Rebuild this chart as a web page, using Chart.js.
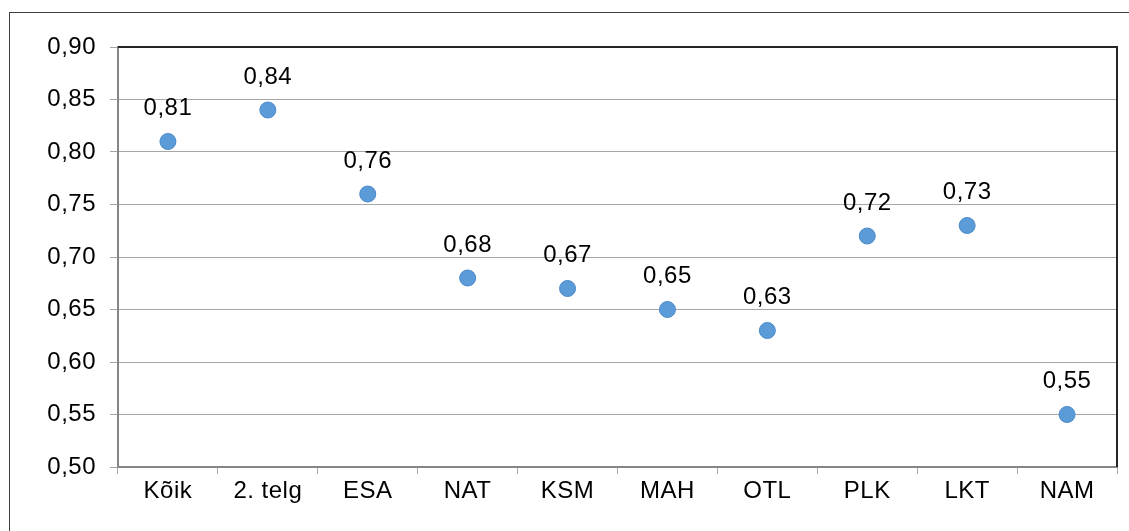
<!DOCTYPE html>
<html>
<head>
<meta charset="utf-8">
<script src="https://cdn.jsdelivr.net/npm/chart.js@4.4.0/dist/chart.umd.min.js"></script>
<style>
  body { margin: 0; background: #fff; }
  canvas { display: block; }
</style>
</head>
<body>
<canvas id="chart" width="1129" height="531"></canvas>
<script>
// data
const categories = ['Kõik', '2. telg', 'ESA', 'NAT', 'KSM', 'MAH', 'OTL', 'PLK', 'LKT', 'NAM'];
const values = [0.81, 0.84, 0.76, 0.68, 0.67, 0.65, 0.63, 0.72, 0.73, 0.55];
const yMin = 0.50, yMax = 0.90, yStep = 0.05;

const fontFamily = '"Liberation Sans", Arial, sans-serif';
const fmt = v => Number(v).toFixed(2).replace('.', ',');

// the original text is a touch wider than plain Arial
const spacingPlugin = {
    id: 'spacing',
    beforeUpdate(chart) { chart.ctx.letterSpacing = '0.5px'; },
    beforeDraw(chart) { chart.ctx.letterSpacing = '0.5px'; }
};

// outer frame + dark top/right plot border
const framePlugin = {
    id: 'frame',
    afterDraw(chart) {
        const { ctx, chartArea } = chart;
        ctx.save();
        ctx.strokeStyle = '#404040';
        ctx.lineWidth = 1;
        ctx.strokeRect(9.5, 12.5, 1200, 600);
        ctx.strokeStyle = '#262626';
        ctx.lineWidth = 2;
        ctx.beginPath();
        ctx.moveTo(chartArea.left, chartArea.top);
        ctx.lineTo(chartArea.right, chartArea.top);
        ctx.lineTo(chartArea.right, chartArea.bottom);
        ctx.stroke();
        ctx.restore();
    }
};

// value labels above the points
const labelPlugin = {
    id: 'valueLabels',
    afterDatasetsDraw(chart) {
        const { ctx } = chart;
        const meta = chart.getDatasetMeta(0);
        ctx.save();
        ctx.font = '24px ' + fontFamily;
        ctx.fillStyle = '#000';
        ctx.textAlign = 'center';
        ctx.textBaseline = 'middle';
        meta.data.forEach((pt, i) => {
            ctx.fillText(fmt(values[i]), pt.x, pt.y - 33);
        });
        ctx.restore();
    }
};

new Chart(document.getElementById('chart'), {
    type: 'line',
    data: {
        labels: categories,
        datasets: [{
            data: values,
            showLine: false,
            pointRadius: 8,
            pointHoverRadius: 8,
            pointBackgroundColor: '#5b9bd8',
            pointBorderColor: '#4a89c8',
            pointBorderWidth: 1
        }]
    },
    options: {
        responsive: false,
        animation: false,
        layout: { padding: { top: 47, right: 12, bottom: 0, left: 0 } },
        plugins: {
            legend: { display: false },
            tooltip: { enabled: false }
        },
        scales: {
            x: {
                type: 'category',
                offset: true,
                afterFit: s => { s.height = 64; },
                grid: {
                    offset: true,
                    drawOnChartArea: false,
                    drawTicks: true,
                    tickLength: 7,
                    color: '#a6a6a6'
                },
                border: { color: '#868686', width: 2 },
                ticks: {
                    color: '#000',
                    padding: 3,
                    font: { family: fontFamily, size: 24 },
                    maxRotation: 0
                }
            },
            y: {
                min: yMin,
                max: yMax,
                afterFit: s => { s.width = 118; },
                grid: {
                    color: '#a6a6a6',
                    tickLength: 8
                },
                border: { color: '#868686', width: 2 },
                ticks: {
                    stepSize: yStep,
                    color: '#000',
                    padding: 14,
                    font: { family: fontFamily, size: 24 },
                    callback: v => fmt(v)
                }
            }
        }
    },
    plugins: [spacingPlugin, framePlugin, labelPlugin]
});
</script>
</body>
</html>
